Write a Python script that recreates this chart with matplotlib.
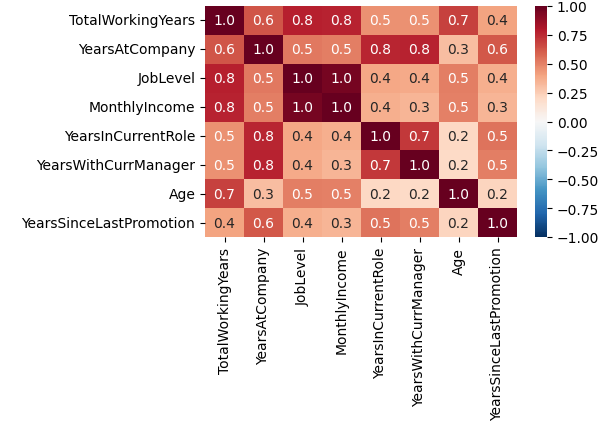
import numpy as np
import pandas as pd
import matplotlib
matplotlib.use("Agg")
import matplotlib.pyplot as plt
import seaborn as sns

labels = ["TotalWorkingYears", "YearsAtCompany", "JobLevel", "MonthlyIncome",
          "YearsInCurrentRole", "YearsWithCurrManager", "Age", "YearsSinceLastPromotion"]

# correlation matrix, row by row (symmetric)
row_twy = [1.00, 0.63, 0.78, 0.77, 0.46, 0.46, 0.68, 0.40]
row_yac = [0.63, 1.00, 0.53, 0.51, 0.76, 0.77, 0.31, 0.62]
row_jl = [0.78, 0.53, 1.00, 0.96, 0.39, 0.38, 0.51, 0.36]
row_mi = [0.77, 0.51, 0.96, 1.00, 0.36, 0.34, 0.50, 0.34]
row_yicr = [0.46, 0.76, 0.39, 0.36, 1.00, 0.71, 0.21, 0.54]
row_ywcm = [0.46, 0.77, 0.38, 0.34, 0.71, 1.00, 0.20, 0.51]
row_age = [0.68, 0.31, 0.51, 0.50, 0.21, 0.20, 1.00, 0.22]
row_yslp = [0.40, 0.62, 0.36, 0.34, 0.54, 0.51, 0.22, 1.00]

corr = pd.DataFrame([row_twy, row_yac, row_jl, row_mi, row_yicr, row_ywcm, row_age, row_yslp],
                    index=labels, columns=labels)

fig = plt.figure(figsize=(6.08, 4.27), dpi=100)
ax = fig.add_axes([205 / 608, 1 - 238 / 427, 312 / 608, 231 / 427])
cax = fig.add_axes([535 / 608, 1 - 238 / 427, 12 / 608, 231 / 427])

sns.heatmap(corr, ax=ax, cbar_ax=cax, cmap="RdBu_r", vmin=-1, vmax=1,
            annot=True, fmt=".1f")

fig.savefig("out.png", dpi=100)
